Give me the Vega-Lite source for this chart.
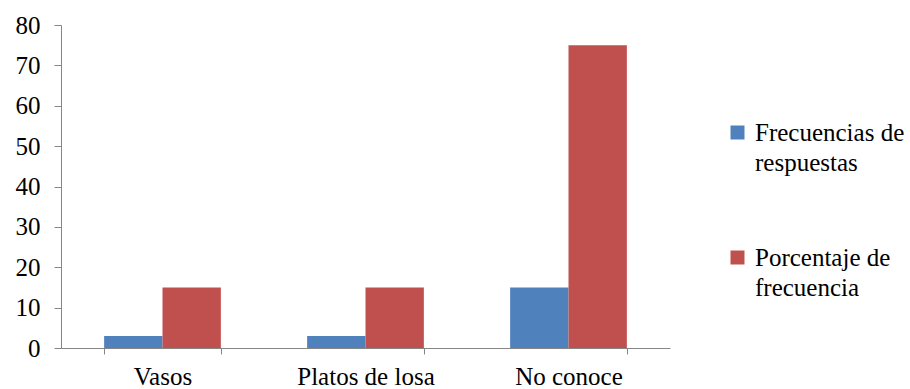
{
  "$schema": "https://vega.github.io/schema/vega-lite/v6.json",
  "width": 609,
  "height": 323,
  "autosize": {"type": "none"},
  "padding": {"left": 61, "top": 25, "right": 240, "bottom": 41},
  "background": "white",
  "config": {
    "view": {"stroke": null},
    "font": "Liberation Serif"
  },
  "data": {
    "values": [
      {"categoria": "Vasos", "serie": "Frecuencias de respuestas", "valor": 3},
      {"categoria": "Vasos", "serie": "Porcentaje de frecuencia", "valor": 15},
      {"categoria": "Platos de losa", "serie": "Frecuencias de respuestas", "valor": 3},
      {"categoria": "Platos de losa", "serie": "Porcentaje de frecuencia", "valor": 15},
      {"categoria": "No conoce", "serie": "Frecuencias de respuestas", "valor": 15},
      {"categoria": "No conoce", "serie": "Porcentaje de frecuencia", "valor": 75}
    ]
  },
  "mark": {"type": "bar"},
  "encoding": {
    "x": {
      "field": "categoria",
      "type": "nominal",
      "sort": ["Vasos", "Platos de losa", "No conoce"],
      "scale": {"paddingInner": 0.425, "paddingOuter": 0.2125},
      "axis": {
        "title": null,
        "labelAngle": 0,
        "labelFont": "Liberation Serif",
        "labelFontSize": 25,
        "labelColor": "black",
        "labelPadding": 30,
        "labelBaseline": "alphabetic",
        "domainColor": "#868686",
        "tickColor": "#868686",
        "tickSize": 6,
        "tickBand": "extent"
      }
    },
    "xOffset": {
      "field": "serie",
      "type": "nominal",
      "scale": {"paddingInner": 0, "paddingOuter": 0}
    },
    "y": {
      "field": "valor",
      "type": "quantitative",
      "scale": {"domain": [0, 80]},
      "axis": {
        "title": null,
        "values": [0, 10, 20, 30, 40, 50, 60, 70, 80],
        "grid": false,
        "labelFont": "Liberation Serif",
        "labelFontSize": 25,
        "labelColor": "black",
        "labelPadding": 14,
        "domainColor": "#868686",
        "tickColor": "#868686",
        "tickSize": 7
      }
    },
    "color": {
      "field": "serie",
      "type": "nominal",
      "scale": {
        "domain": ["Frecuencias de respuestas", "Porcentaje de frecuencia"],
        "range": ["#4F81BD", "#C0504D"]
      },
      "legend": {
        "title": null,
        "orient": "none",
        "legendX": 664,
        "legendY": 95,
        "symbolType": "square",
        "symbolSize": 196,
        "symbolStrokeWidth": 0,
        "labelFont": "Liberation Serif",
        "labelFontSize": 25,
        "labelColor": "black",
        "labelLimit": 300,
        "labelOffset": 5,
        "labelBaseline": "middle",
        "labelExpr": "datum.label == 'Frecuencias de respuestas' ? ['Frecuencias de', 'respuestas'] : ['Porcentaje de', 'frecuencia']",
        "rowPadding": 69,
        "encode": {"labels": {"update": {"lineHeight": {"value": 30}}}}
      }
    }
  }
}
